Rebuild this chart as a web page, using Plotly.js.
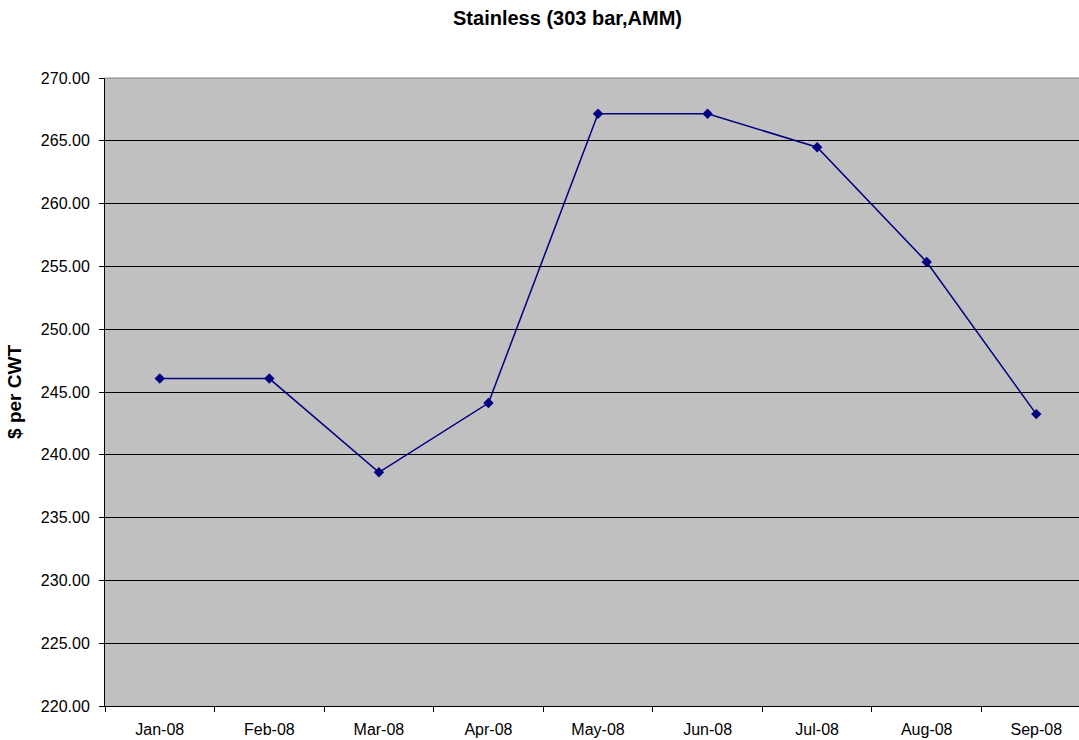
<!DOCTYPE html>
<html>
<head>
<meta charset="utf-8">
<script src="https://cdn.plot.ly/plotly-3.0.1.min.js"></script>
<style>html,body{margin:0;padding:0;background:#fff;}#chart{width:1079px;height:740px;}</style>
</head>
<body>
<div id="chart"></div>
<script>
const months = ["Jan-08","Feb-08","Mar-08","Apr-08","May-08","Jun-08","Jul-08","Aug-08","Sep-08"];
const prices = [246.07, 246.07, 238.61, 244.12, 267.15, 267.15, 264.49, 255.35, 243.24];
const yTickVals = [220,225,230,235,240,245,250,255,260,265,270];

const trace = {
  x: months,
  y: prices,
  type: "scatter",
  mode: "lines+markers",
  line: {color: "#000080", width: 1.5},
  marker: {symbol: "diamond", size: 8, color: "#000080"},
  hoverinfo: "skip"
};

const ff = "Liberation Sans, Arial, sans-serif";

const layout = {
  width: 1079, height: 740,
  margin: {l: 105, r: 0, t: 78, b: 34, pad: 0},
  paper_bgcolor: "#ffffff",
  plot_bgcolor: "#C0C0C0",
  showlegend: false,
  font: {family: ff, color: "#000", size: 16},
  title: {text: "<b>Stainless (303 bar,AMM)</b>", font: {family: ff, size: 20, color: "#000"}, x: 567.5/1079, xref: "container", xanchor: "center", y: 1 - 18/740, yref: "container", yanchor: "middle"},
  xaxis: {
    type: "category",
    range: [-0.5, 8.39],
    tickson: "boundaries",
    ticks: "outside", ticklen: 5, tickcolor: "#000", tickwidth: 1,
    ticklabelstandoff: 9,
    showgrid: false, zeroline: false,
    showline: true, linecolor: "#000", linewidth: 1,
    tickfont: {family: ff, size: 16, color: "#000"},
    fixedrange: true
  },
  yaxis: {
    range: [220, 270],
    tickvals: yTickVals,
    ticktext: yTickVals.map(v => v.toFixed(2)),
    ticks: "outside", ticklen: 5, tickcolor: "#000", tickwidth: 1,
    ticklabelstandoff: 6,
    showgrid: true, gridcolor: "#000", gridwidth: 1,
    zeroline: false,
    showline: true, linecolor: "#000", linewidth: 1,
    tickfont: {family: ff, size: 16, color: "#000"},
    title: {text: "<b>$ per CWT</b>", font: {family: ff, size: 19, color: "#000"}, standoff: 14},
    fixedrange: true
  },
  shapes: [
    {type: "line", xref: "paper", yref: "paper", x0: 0, x1: 1, y0: 1, y1: 1, line: {color: "#808080", width: 1}}
  ]
};

Plotly.newPlot("chart", [trace], layout, {displayModeBar: false, staticPlot: true});
</script>
</body>
</html>
